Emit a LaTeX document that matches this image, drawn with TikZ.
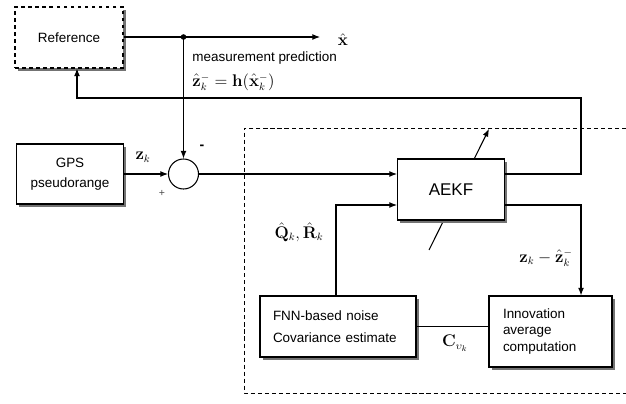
\documentclass[tikz,border=0pt]{standalone}
\usepackage[no-math]{fontspec}
\setmainfont{Liberation Sans}
\usetikzlibrary{arrows.meta,shadows}
\tikzset{
  box/.style={draw, line width=0.9pt, fill=white, font=\fontsize{11.5}{14}\selectfont,
    drop shadow={shadow xshift=2.5pt, shadow yshift=-2.5pt, fill=black!55, opacity=1}},
  link/.style={line width=0.9pt},
  arr/.style={link, -{Latex[length=6.5pt,width=5pt]}},
  lbl/.style={font=\fontsize{11.5}{14}\selectfont, inner sep=1pt},
  mlbl/.style={font=\fontsize{13.5}{15}\selectfont, inner sep=1pt}
}
\begin{document}
\begin{tikzpicture}[x=0.03cm,y=-0.03cm]
\useasboundingbox (0,0) rectangle (626,404);
% adaptive part
\draw[dashed, line width=0.7pt, dash pattern=on 3.5pt off 2.5pt] (626,128) -- (244,128) -- (244,393) -- (626,393);
% blocks
\node[box, dashed, minimum width=3.24cm, minimum height=1.83cm] (ref) at (69,37.5) {Reference};
\node[box, align=center, minimum width=3.21cm, minimum height=1.8cm] (gps) at (70,174) {GPS\\[3pt]pseudorange};
\node[draw, line width=0.9pt, circle, minimum size=0.9cm, inner sep=0pt] (sum) at (183.5,174) {};
\draw[arr] (429,250) -- (489,129);
\node[box, font=\fontsize{14.5}{16}\selectfont, minimum width=3.21cm, minimum height=1.83cm] (aekf) at (451,189.5) {AEKF};
\node[box, align=left, text width=3.9cm, inner xsep=0.39cm, minimum height=1.83cm] (fnn) at (338,326.5)
  {FNN-based noise\\[5pt]Covariance estimate};
\node[box, align=left, text width=2.85cm, inner xsep=0.42cm, minimum height=2.13cm] (innov) at (550.5,331.5)
  {Innovation\\average\\computation};
% connectors
\coordinate (tap) at (183.5,37);
\coordinate (xend) at (320,37);
\coordinate (fb) at (77,98);
\coordinate (fbr) at (581,98);
\coordinate (qr) at (336,205);
\coordinate (zo) at (581,205);
\draw[arr] (ref.east |- tap) -- (xend);
\fill (tap) circle (2.8);
\draw[arr] (tap) -- (sum.north);
\draw[arr] (gps.east |- sum) -- (sum.west);
\draw[arr] (sum.east) -- (sum.east -| aekf.west);
\draw[arr] (sum.east -| aekf.east) -- (fbr |- sum) -- (fbr) -- (fb) -- (fb |- ref.south);
\draw[arr] (fnn.north -| qr) -- (qr) -- (qr -| aekf.west);
\draw[arr] (qr -| aekf.east) -- (zo) -- (zo |- innov.north);
\draw[link] (fnn.east) -- (fnn.east -| innov.west);
% labels
\node[mlbl] (xhat) at (343,40) {$\hat{\mathbf{x}}$};
\node[lbl, anchor=west] (mp) at (191,58) {measurement prediction};
\node[mlbl, anchor=west] (mpf) at (191,82) {$\hat{\mathbf{z}}_k^{-}=\mathbf{h}(\hat{\mathbf{x}}_k^{-})$};
\node[mlbl] (zk) at (143,157) {$\mathbf{z}_k$};
\node[lbl, font=\bfseries\fontsize{12}{14}\selectfont] (minus) at (202,147) {-};
\node[lbl, font=\fontsize{9}{11}\selectfont, text=black!70] (plus) at (162,193) {+};
\node[mlbl] (qrl) at (299,232) {$\hat{\mathbf{Q}}_k,\hat{\mathbf{R}}_k$};
\node[mlbl] (inno) at (546,258) {$\mathbf{z}_k-\hat{\mathbf{z}}_k^{-}$};
\node[mlbl] (cv) at (455,343) {$\mathbf{C}_{\upsilon_k}$};
\end{tikzpicture}
\end{document}
